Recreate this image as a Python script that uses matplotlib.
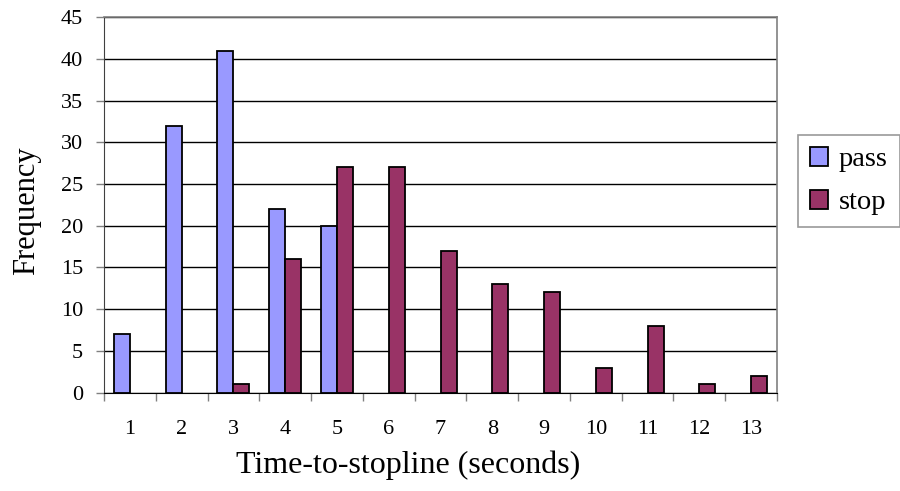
import matplotlib
matplotlib.use("Agg")
import matplotlib.pyplot as plt
import numpy as np

plt.rcParams['font.family'] = ['Liberation Serif', 'DejaVu Serif']

# data
seconds = [1, 2, 3, 4, 5, 6, 7, 8, 9, 10, 11, 12, 13]
pass_freq = [7, 32, 41, 22, 20, 0, 0, 0, 0, 0, 0, 0, 0]
stop_freq = [0, 0, 1, 16, 27, 27, 17, 13, 12, 3, 8, 1, 2]

pass_color = '#9999FF'
stop_color = '#993366'

fig = plt.figure(figsize=(9, 4.91), dpi=100)
ax = fig.add_axes([0.1156, 0.2006, 0.8633 - 0.1156, 0.9644 - 0.2006])

x = np.arange(len(seconds))
w = 0.31
# zero counts draw nothing (no flat outline)
p = np.array(pass_freq, dtype=float)
s = np.array(stop_freq, dtype=float)
p[p == 0] = np.nan
s[s == 0] = np.nan
ax.bar(x - w / 2, p, w, color=pass_color, edgecolor='black', linewidth=1.3, label='pass', zorder=3)
ax.bar(x + w / 2, s, w, color=stop_color, edgecolor='black', linewidth=1.3, label='stop', zorder=3)

ax.set_xlim(-0.5, len(seconds) - 0.5)
ax.set_ylim(0, 45)
ax.set_yticks(range(0, 46, 5))
ax.yaxis.grid(True, color='black', linewidth=1.0, zorder=0)
ax.set_axisbelow(True)

# category labels at centers, tick marks at boundaries
ax.set_xticks(x)
ax.set_xticklabels([str(v) for v in seconds], fontsize=16)
ax.tick_params(axis='x', which='major', length=0, pad=20)
ax.set_xticks(np.arange(-0.5, len(seconds), 1.0), minor=True)
ax.tick_params(axis='x', which='minor', length=6, width=1, color='#808080', direction='out')
ax.tick_params(axis='y', length=6, width=1, color='#808080', labelsize=16, pad=9)

for side in ['top', 'right']:
    ax.spines[side].set_color('#808080')
    ax.spines[side].set_linewidth(1.2)
ax.spines['left'].set_color('#404040')
ax.spines['bottom'].set_color('black')

ax.set_xlabel('Time-to-stopline (seconds)', fontsize=23)
ax.xaxis.set_label_coords(0.452, -0.155)
ax.set_ylabel('Frequency', fontsize=22)
ax.yaxis.set_label_coords(-0.093, 0.485)

leg = fig.legend(loc='upper left', bbox_to_anchor=(0.8867, 0.725), fontsize=20.5,
                 frameon=True, fancybox=False, edgecolor='#808080',
                 handlelength=0.64, handleheight=0.64, handletextpad=0.38,
                 borderpad=0.42, labelspacing=0.62, borderaxespad=0)
leg.get_frame().set_linewidth(1.2)

fig.savefig('out.png', dpi=100)
